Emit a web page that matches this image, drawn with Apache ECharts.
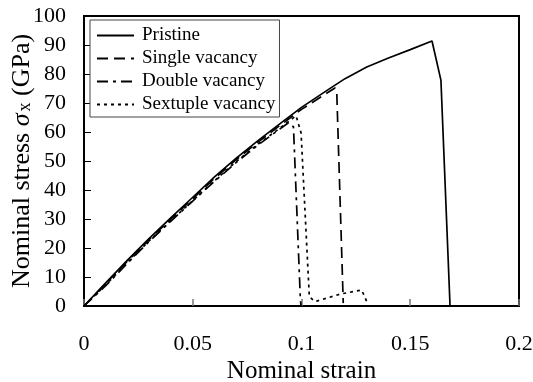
<!DOCTYPE html>
<html>
<head>
<meta charset="utf-8">
<script src="https://cdn.jsdelivr.net/npm/echarts@6/dist/echarts.min.js"></script>
<style>
  html, body { margin: 0; padding: 0; background: #fff; }
  #chart { width: 533px; height: 382px; }
</style>
</head>
<body>
<div id="chart"></div>
<script>
// Stress–strain curves of graphene sheets with vacancy defects
const seriesNames = ['Pristine', 'Single vacancy', 'Double vacancy', 'Sextuple vacancy'];

const pristineStrain = [0, 0.01, 0.02, 0.03, 0.04, 0.05, 0.06, 0.07, 0.08, 0.09, 0.10, 0.11, 0.12, 0.13, 0.14, 0.15, 0.16, 0.1641, 0.1683];
const pristineStress = [0, 8.0, 15.8, 23.3, 30.5, 37.5, 44.5, 51.0, 57.0, 62.8, 68.5, 73.5, 78.4, 82.4, 85.5, 88.4, 91.4, 77.9, 0];

const singleStrain = [0, 0.01, 0.02, 0.03, 0.04, 0.05, 0.06, 0.07, 0.08, 0.09, 0.10, 0.11, 0.1154, 0.1162, 0.1192];
const singleStress = [0, 7.8, 15.5, 23.0, 30.0, 37.0, 44.0, 50.5, 56.5, 62.2, 67.8, 72.6, 75.2, 74.0, 1.0];

const doubleStrain = [0, 0.01, 0.02, 0.03, 0.04, 0.05, 0.06, 0.07, 0.08, 0.09, 0.094, 0.0963, 0.0995, 0.0998];
const doubleStress = [0, 7.0, 14.8, 22.3, 29.3, 36.2, 43.0, 49.5, 55.5, 61.0, 63.2, 61.8, 2.0, 0];

const sextupleStrain = [0, 0.01, 0.02, 0.03, 0.04, 0.05, 0.06, 0.07, 0.08, 0.09, 0.0975, 0.0998, 0.1036, 0.1062, 0.1177, 0.1277, 0.1300];
const sextupleStress = [0, 7.3, 15.0, 22.5, 29.5, 36.3, 43.2, 49.8, 55.8, 61.3, 65.6, 59.7, 3.2, 1.5, 4.1, 5.5, 1.5];

const xTicks = { min: 0, max: 0.2, step: 0.05 };
const yTicks = { min: 0, max: 100, step: 10 };

const pairs = (xs, ys) => xs.map((x, i) => [x, ys[i]]);

const FONT = '"Liberation Serif", "Times New Roman", serif';

const lineStyles = [
  { type: 'solid' },
  { type: [11, 6] },
  { type: [11, 5, 3, 5] },
  { type: [3, 4] }
];
const dataSets = [
  pairs(pristineStrain, pristineStress),
  pairs(singleStrain, singleStress),
  pairs(doubleStrain, doubleStress),
  pairs(sextupleStrain, sextupleStress)
];

const chart = echarts.init(document.getElementById('chart'), null, { renderer: 'canvas' });

chart.setOption({
  animation: false,
  backgroundColor: '#ffffff',
  textStyle: { fontFamily: FONT, color: '#000' },
  grid: {
    left: 84, right: 14, top: 16, bottom: 76,
    outerBoundsMode: 'none',
    containLabel: false,
    show: true, borderColor: '#000', borderWidth: 2, backgroundColor: 'transparent'
  },
  legend: {
    left: 90, top: 20,
    orient: 'vertical',
    backgroundColor: '#fff',
    borderColor: '#444', borderWidth: 1,
    padding: [6, 4, 3, 6],
    itemGap: 4,
    itemWidth: 37, itemHeight: 14,
    itemStyle: { opacity: 0 },
    textStyle: { fontFamily: FONT, fontSize: 19, lineHeight: 19, color: '#000', padding: [0, 0, 0, 3] },
    data: seriesNames
  },
  xAxis: {
    type: 'value',
    min: xTicks.min, max: xTicks.max, interval: xTicks.step,
    name: 'Nominal strain',
    nameLocation: 'middle', nameGap: 53,
    nameMoveOverlap: false,
    nameTextStyle: { fontFamily: FONT, fontSize: 25, color: '#000' },
    axisLine: { show: true, lineStyle: { color: '#000', width: 2 } },
    axisTick: { show: true, inside: true, length: 7, lineStyle: { color: '#777', width: 1.5 } },
    axisLabel: { margin: 27, fontFamily: FONT, fontSize: 22, color: '#000' },
    splitLine: { show: false }
  },
  yAxis: {
    type: 'value',
    min: yTicks.min, max: yTicks.max, interval: yTicks.step,
    name: '{a|Nominal stress }{s|σ}{sub|x}{a| (GPa)}',
    nameLocation: 'middle', nameGap: 49,
    nameMoveOverlap: false,
    nameTextStyle: {
      fontFamily: FONT, fontSize: 26, color: '#000',
      rich: {
        a: { fontFamily: FONT, fontSize: 26, color: '#000' },
        s: { fontFamily: FONT, fontSize: 26, fontStyle: 'italic', color: '#000' },
        sub: { fontFamily: FONT, fontSize: 18, color: '#000', padding: [7, 0, 0, 2] }
      }
    },
    axisLine: { show: true, lineStyle: { color: '#000', width: 2 } },
    axisTick: { show: true, inside: true, length: 7, lineStyle: { color: '#000', width: 1 } },
    axisLabel: { margin: 18, fontFamily: FONT, fontSize: 22, color: '#000' },
    splitLine: { show: false }
  },
  series: seriesNames.map((name, i) => ({
    name,
    type: 'line',
    data: dataSets[i],
    symbol: 'none',
    smooth: false,
    lineStyle: Object.assign({ color: '#000', width: 1.7 }, lineStyles[i]),
    itemStyle: { color: '#000' },
    z: 4 - i
  }))
});
</script>
</body>
</html>
